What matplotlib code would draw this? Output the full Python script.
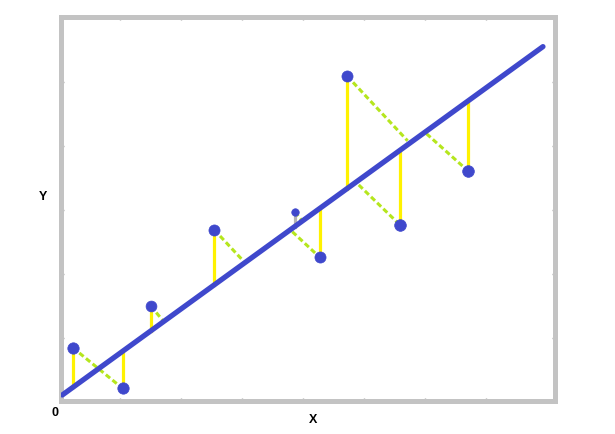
import matplotlib.pyplot as plt

# data (x: 0..8, y: 0..6)
pts_x = [0.22, 1.04, 1.50, 2.54, 3.86, 4.27, 4.72, 5.58, 6.70]
pts_y = [0.85, 0.22, 1.50, 2.69, 2.97, 2.26, 5.09, 2.77, 3.61]
pts_size = [8.2, 8.2, 7.8, 8.0, 5.4, 8.0, 8.0, 8.4, 8.4]
resid_col = ["#fff200"] * 4 + ["#b4b4b4"] + ["#fff200"] * 4

# fitted line
line_x = [0.05, 7.93]
line_y = [0.11, 5.55]

# dashed (distance) segments: start / end
seg_x0 = [0.22, 1.50, 2.54, 3.86, 3.82, 4.72, 4.91, 6.02]
seg_y0 = [0.85, 1.50, 2.69, 2.97, 2.66, 5.09, 3.39, 4.19]
seg_x1 = [0.99, 1.70, 3.03, 3.98, 4.27, 5.71, 5.58, 6.70]
seg_y1 = [0.25, 1.27, 2.19, 2.83, 2.26, 4.08, 2.77, 3.61]

BLUE = "#3f48cc"
LIME = "#b5e61d"
YELLOW = "#fff200"
FRAME = "#c3c3c3"

slope = (line_y[1] - line_y[0]) / (line_x[1] - line_x[0])
icpt = line_y[0] - slope * line_x[0]

fig = plt.figure(figsize=(6.15, 4.34), dpi=100)
ax = fig.add_axes([0.0984, 0.0749, 0.8033, 0.887])
ax.set_xlim(0.02, 8.12)
ax.set_ylim(0.008, 6.02)

# dashed distance lines
for x0, y0, x1, y1 in zip(seg_x0, seg_y0, seg_x1, seg_y1):
    ax.plot([x0, x1], [y0, y1], color=LIME, lw=2.2, dashes=(1.8, 1.0),
            solid_capstyle="butt", zorder=2)

# vertical residuals
for x, y, c in zip(pts_x, pts_y, resid_col):
    ax.plot([x, x], [y, icpt + slope * x], color=c, lw=2.3, zorder=2)

# regression line
ax.plot(line_x, line_y, color=BLUE, lw=3.8, solid_capstyle="round", zorder=3)

# points
for x, y, s in zip(pts_x, pts_y, pts_size):
    ax.plot(x, y, "o", color=BLUE, ms=s, mec=BLUE, mew=0.5, zorder=4)

for side in ax.spines.values():
    side.set_color(FRAME)
    side.set_linewidth(3.6)

ax.set_xticks(range(1, 8))
ax.set_yticks(range(1, 6))
ax.tick_params(direction="in", length=2.5, width=1, color="#a8a8a8",
               top=True, right=True, labelbottom=False, labelleft=False)

lab = dict(fontsize=9, fontweight="bold", family="Liberation Sans",
           ha="center", va="center")
fig.text(55 / 615, 1 - 413 / 434, "0", **lab)
fig.text(313 / 615, 1 - 420 / 434, "X", **lab)
fig.text(43 / 615, 1 - 197 / 434, "Y", **lab)

fig.savefig("out.png", dpi=100)
